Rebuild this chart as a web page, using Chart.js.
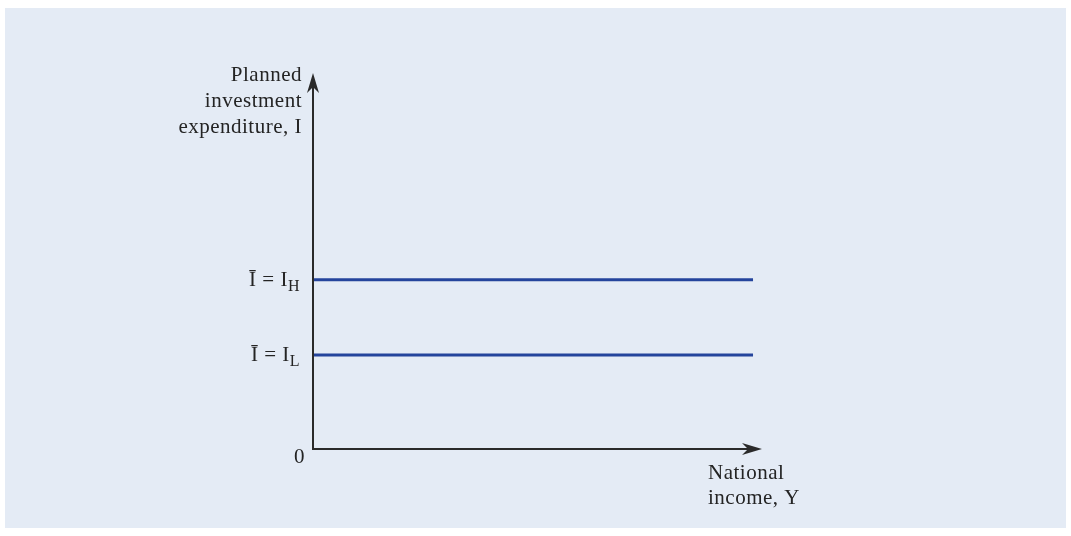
<!DOCTYPE html>
<html>
<head>
<meta charset="utf-8">
<script src="https://cdn.jsdelivr.net/npm/chart.js@4"></script>
<style>
  html, body { margin: 0; padding: 0; background: #ffffff; }
  #wrap { width: 1071px; height: 536px; }
</style>
</head>
<body>
<div id="wrap"><canvas id="chart" width="1071" height="536"></canvas></div>
<script>
// Axis ranges (arbitrary units for a schematic diagram)
const xRange = [0, 100];
const yRange = [0, 100];

// Autonomous investment levels: high and low
const levelNames = ['H', 'L'];
const investmentLevels = [45, 25];

// Horizontal extent of the investment lines along national income
const lineSpan = [0, 98];

// Axis titles
const yTitleLines = ['Planned', 'investment', 'expenditure, I'];
const xTitleLines = ['National', 'income, Y'];
const originLabel = '0';

const FONT = '"Liberation Serif", "DejaVu Serif", serif';
const MAIN_SIZE = 21;
const SUB_SIZE = 16;
const TEXT_COLOR = '#242424';
const AXIS_COLOR = '#2a2a2a';
const LINE_COLOR = '#24449c';
const PANEL_COLOR = '#e4ebf5';

const datasets = investmentLevels.map((level, i) => ({
  label: 'I' + levelNames[i],
  data: lineSpan.map(x => ({ x: x, y: level })),
  borderColor: LINE_COLOR,
  borderWidth: 3,
  pointRadius: 0,
  fill: false,
  tension: 0
}));

function arrowHead(ctx, tipX, tipY, dir) {
  // dir: 'up' or 'right'; concave-based arrow head
  const len = 20, half = 6, notch = 6;
  ctx.beginPath();
  if (dir === 'up') {
    ctx.moveTo(tipX, tipY);
    ctx.lineTo(tipX + half, tipY + len);
    ctx.lineTo(tipX, tipY + len - notch);
    ctx.lineTo(tipX - half, tipY + len);
  } else {
    ctx.moveTo(tipX, tipY);
    ctx.lineTo(tipX - len, tipY - half);
    ctx.lineTo(tipX - len + notch, tipY);
    ctx.lineTo(tipX - len, tipY + half);
  }
  ctx.closePath();
  ctx.fill();
}

function setFont(ctx, size) {
  ctx.font = size + 'px ' + FONT;
  ctx.letterSpacing = '0.5px';
}

const diagramPlugin = {
  id: 'diagram',
  beforeDraw(chart) {
    const ctx = chart.ctx;
    ctx.save();
    ctx.fillStyle = PANEL_COLOR;
    ctx.fillRect(5, 8, chart.width - 10, chart.height - 16);
    ctx.restore();
  },
  afterDatasetsDraw(chart) {
    const ctx = chart.ctx;
    const xs = chart.scales.x, ys = chart.scales.y;
    const x0 = xs.getPixelForValue(xRange[0]);
    const x1 = xs.getPixelForValue(xRange[1]);
    const y0 = ys.getPixelForValue(yRange[0]);
    const y1 = ys.getPixelForValue(yRange[1]);

    ctx.save();
    // Axes
    ctx.strokeStyle = AXIS_COLOR;
    ctx.fillStyle = AXIS_COLOR;
    ctx.lineWidth = 2;
    ctx.beginPath();
    ctx.moveTo(x0, y1 + 10);
    ctx.lineTo(x0, y0);
    ctx.lineTo(x1 - 10, y0);
    ctx.stroke();
    arrowHead(ctx, x0, y1, 'up');
    arrowHead(ctx, x1, y0, 'right');

    // Text
    ctx.fillStyle = TEXT_COLOR;
    setFont(ctx, MAIN_SIZE);
    ctx.textBaseline = 'alphabetic';

    // Y-axis title, right aligned beside the arrow
    ctx.textAlign = 'right';
    yTitleLines.forEach((t, i) => ctx.fillText(t, x0 - 11, y1 + 8 + i * 26));

    // Origin
    ctx.fillText(originLabel, x0 - 8, y0 + 14);

    // Level labels with subscripts
    investmentLevels.forEach((level, i) => {
      const y = ys.getPixelForValue(level);
      const right = x0 - 13;
      setFont(ctx, SUB_SIZE);
      const subW = ctx.measureText(levelNames[i]).width;
      setFont(ctx, MAIN_SIZE);
      const main = '\u012A = I';
      const mainW = ctx.measureText(main).width;
      ctx.textAlign = 'left';
      ctx.fillText(main, right - subW - mainW, y + 6);
      setFont(ctx, SUB_SIZE);
      ctx.fillText(levelNames[i], right - subW, y + 11);
    });

    // X-axis title
    setFont(ctx, MAIN_SIZE);
    ctx.textAlign = 'left';
    xTitleLines.forEach((t, i) => ctx.fillText(t, x1 - 54, y0 + 30 + i * 25));
    ctx.restore();
  }
};

new Chart(document.getElementById('chart'), {
  type: 'line',
  data: { datasets: datasets },
  options: {
    responsive: false,
    animation: false,
    layout: { padding: { left: 313, top: 73, right: 309, bottom: 87 } },
    plugins: { legend: { display: false }, tooltip: { enabled: false } },
    scales: {
      x: { type: 'linear', min: xRange[0], max: xRange[1], display: false },
      y: { type: 'linear', min: yRange[0], max: yRange[1], display: false }
    }
  },
  plugins: [diagramPlugin]
});
</script>
</body>
</html>
